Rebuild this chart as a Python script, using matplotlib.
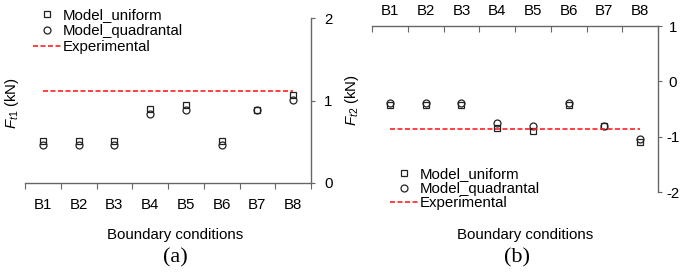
import numpy as np
import matplotlib
matplotlib.use('Agg')
import matplotlib.pyplot as plt
from matplotlib.lines import Line2D

plt.rcParams['font.family'] = ['Liberation Sans', 'DejaVu Sans']
plt.rcParams['mathtext.fontset'] = 'custom'
plt.rcParams['mathtext.it'] = 'Liberation Sans:italic'
plt.rcParams['mathtext.rm'] = 'Liberation Sans'
plt.rcParams['axes.unicode_minus'] = False

# data
conditions = ['B1', 'B2', 'B3', 'B4', 'B5', 'B6', 'B7', 'B8']
ft1_uniform = [0.51, 0.51, 0.51, 0.90, 0.95, 0.51, 0.88, 1.07]
ft1_quadrantal = [0.46, 0.46, 0.46, 0.84, 0.89, 0.46, 0.88, 1.01]
ft1_experimental = 1.11
ft2_uniform = [-0.43, -0.43, -0.43, -0.84, -0.90, -0.43, -0.81, -1.09]
ft2_quadrantal = [-0.40, -0.40, -0.40, -0.76, -0.81, -0.40, -0.81, -1.04]
ft2_experimental = -0.87

W, H = 685, 274
fs = 10.8
axis_col = '#666666'
mk_col = '#222222'

fig = plt.figure(figsize=(W / 100, H / 100), dpi=100)

pos = np.arange(len(conditions)) + 0.5
edges = np.arange(len(conditions) + 1)


def legend_handles():
    return [
        Line2D([], [], ls='none', marker='s', ms=4.5, mfc='none', mec=mk_col, mew=0.9),
        Line2D([], [], ls='none', marker='o', ms=5, mfc='none', mec=mk_col, mew=0.9),
        Line2D([], [], color='#ff2020', ls=(0, (3, 1.5)), lw=1.2),
    ]


labels = ['Model_uniform', 'Model_quadrantal', 'Experimental']


def draw(ax, uni, quad, exp):
    ax.plot(pos, uni, ls='none', marker='s', ms=4.5, mfc='none', mec=mk_col, mew=0.9)
    ax.plot(pos, quad, ls='none', marker='o', ms=5, mfc='none', mec=mk_col, mew=0.9)
    ax.plot([pos[0], pos[-1]], [exp, exp], color='#ff2020', ls=(0, (3, 1.5)), lw=1.2)
    ax.set_xlim(0, 8)
    ax.set_xticks(edges)
    ax.set_xticklabels([])
    ax.set_xticks(pos, minor=True)
    ax.set_xticklabels(conditions, minor=True, fontsize=fs)
    ax.yaxis.tick_right()
    for s in ax.spines.values():
        s.set_color(axis_col)
        s.set_linewidth(1.0)
    ax.tick_params(axis='y', length=3, color=axis_col, labelsize=fs)
    ax.patch.set_alpha(0)


# (a)
ax1 = fig.add_axes([25 / W, 1 - 183 / H, 286 / W, 165 / H])
draw(ax1, ft1_uniform, ft1_quadrantal, ft1_experimental)
ax1.set_ylim(0, 2)
ax1.set_yticks([0, 1, 2])
ax1.spines['top'].set_visible(False)
ax1.spines['left'].set_visible(False)
ax1.tick_params(axis='x', which='major', length=4, direction='out', color=axis_col)
ax1.tick_params(axis='x', which='minor', length=0, pad=11)
ax1.tick_params(axis='y', pad=9.5)
for t in ax1.get_yticklabels():
    t.set_horizontalalignment('center')

fig.text(12 / W, 1 - 103 / H, r'$\mathit{F}_{\mathit{t1}}$ (kN)', rotation=90, ha='center',
         va='center', fontsize=fs)
fig.text(175 / W, 1 - 235 / H, 'Boundary conditions', ha='center', va='center', fontsize=fs)
fig.text(175 / W, 1 - 258 / H, '(a)', ha='center', va='center', fontsize=16,
         family='Liberation Serif')
fig.legend(legend_handles(), labels, loc='upper left', bbox_to_anchor=(33 / W, 1 - 8 / H),
           frameon=False, fontsize=fs, handlelength=1.85, handletextpad=0.15,
           labelspacing=0.15, borderpad=0, borderaxespad=0)

# (b)
ax2 = fig.add_axes([372 / W, 1 - 192 / H, 286 / W, 166 / H])
draw(ax2, ft2_uniform, ft2_quadrantal, ft2_experimental)
ax2.set_ylim(-2, 1)
ax2.set_yticks([-2, -1, 0, 1])
ax2.xaxis.tick_top()
ax2.spines['bottom'].set_visible(False)
ax2.spines['left'].set_visible(False)
ax2.tick_params(axis='x', which='major', length=4, direction='in', color=axis_col)
ax2.tick_params(axis='x', which='minor', length=0, pad=6)
ax2.tick_params(axis='y', pad=7.5)
for t in ax2.get_yticklabels():
    t.set_horizontalalignment('center')

fig.text(352 / W, 1 - 100 / H, r'$\mathit{F}_{\mathit{t2}}$ (kN)', rotation=90, ha='center',
         va='center', fontsize=fs)
fig.text(525 / W, 1 - 235 / H, 'Boundary conditions', ha='center', va='center', fontsize=fs)
fig.text(517 / W, 1 - 258 / H, '(b)', ha='center', va='center', fontsize=16,
         family='Liberation Serif')
fig.legend(legend_handles(), labels, loc='upper left', bbox_to_anchor=(390 / W, 1 - 167 / H),
           frameon=False, fontsize=fs, handlelength=1.85, handletextpad=0.15,
           labelspacing=0.05, borderpad=0, borderaxespad=0)

fig.savefig('out.png', dpi=100)
